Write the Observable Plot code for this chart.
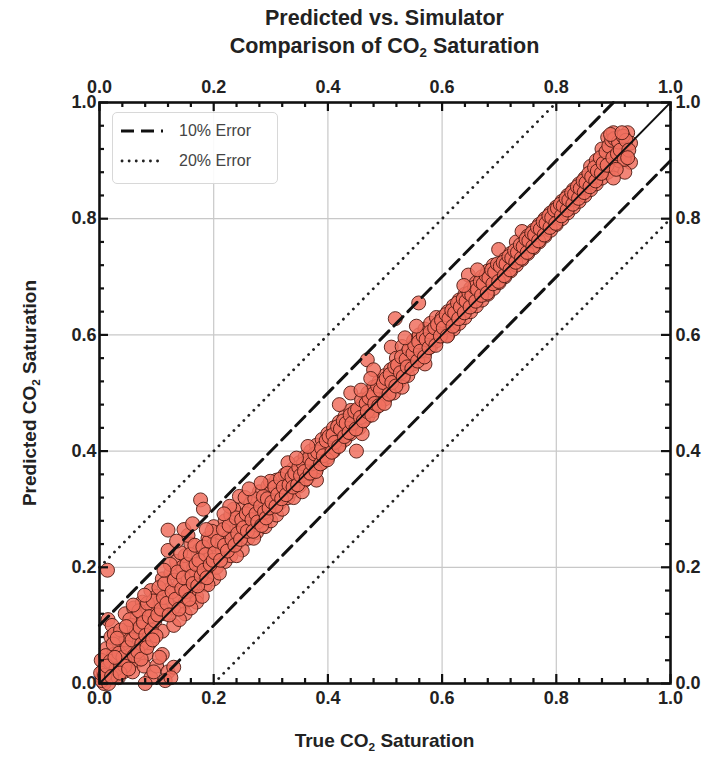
<!DOCTYPE html>
<html><head><meta charset="utf-8">
<script src="https://cdn.jsdelivr.net/npm/d3@7"></script>
<script src="https://cdn.jsdelivr.net/npm/@observablehq/plot@0.6"></script>
<style>
body{margin:0;background:#fff;}
#wrap{position:relative;width:706px;height:757px;font-family:"Liberation Sans",Arial,sans-serif;color:#222;}
.title{position:absolute;left:99px;width:571px;top:4px;text-align:center;font-weight:bold;font-size:21.5px;line-height:28px;}
sub{font-size:0.62em;vertical-align:-0.3em;line-height:0;}
.xlab{position:absolute;left:99px;width:571px;top:730px;text-align:center;font-weight:bold;font-size:19px;}
.ylab{position:absolute;left:30px;top:393px;transform:translate(-50%,-50%) rotate(-90deg);white-space:nowrap;font-weight:bold;font-size:19px;}
.legend{position:absolute;left:112px;top:112px;width:164px;height:70px;border:1px solid #d8d8d8;border-radius:5px;background:rgba(255,255,255,0.9);font-size:16px;color:#444;}
.legend .row{position:absolute;left:6px;height:20px;display:flex;align-items:center;}
.legend svg{margin-right:14px;}
#chart{position:absolute;left:0;top:0;}
</style>
</head><body>
<div id="wrap">
<div id="chart"></div>
<div class="title">Predicted vs. Simulator<br>Comparison of CO<sub>2</sub> Saturation</div>
<div class="xlab">True CO<sub>2</sub> Saturation</div>
<div class="ylab">Predicted CO<sub>2</sub> Saturation</div>
<div class="legend">
  <div class="row" style="top:8px"><svg width="46" height="20"><line x1="2" y1="10" x2="44" y2="10" stroke="#111" stroke-width="3" stroke-dasharray="13,7"/></svg><span>10% Error</span></div>
  <div class="row" style="top:38px"><svg width="46" height="20"><line x1="3" y1="10" x2="44" y2="10" stroke="#222" stroke-width="2.8" stroke-dasharray="0.1,7" stroke-linecap="round"/></svg><span>20% Error</span></div>
</div>
</div>
<script>
// True vs predicted CO2 saturation samples [true, predicted]
const samples = [
[0.005,0.01],[0.01,0.03],[0.012,0.06],[0.018,0.02],[0.02,0.08],[0.025,0.05],[0.03,0.04],[0.008,0.0],[0.015,0.11],[0.022,0.1],
[0.035,0.07],[0.04,0.06],[0.045,0.12],[0.05,0.09],[0.028,0.015],[0.038,0.03],[0.055,0.05],[0.06,0.13],[0.065,0.1],[0.07,0.08],
[0.075,0.14],[0.08,0.11],[0.085,0.09],[0.09,0.16],[0.095,0.12],[0.1,0.15],[0.042,0.02],[0.052,0.04],[0.062,0.07],[0.072,0.06],
[0.082,0.05],[0.092,0.1],[0.004,0.005],[0.016,0.0],[0.033,0.01],[0.048,0.035],[0.058,0.02],[0.068,0.04],[0.078,0.03],[0.088,0.07],
[0.098,0.13],[0.014,0.195],[0.003,0.04],[0.026,0.085],[0.046,0.075],[0.066,0.115],[0.086,0.125],[0.056,0.1],
[0.09,0.01],[0.1,0.03],[0.11,0.05],[0.12,0.02],[0.13,0.028],[0.115,0.005],[0.105,0.045],[0.095,0.02],[0.125,0.01],[0.08,0.0],
[0.105,0.14],[0.11,0.18],[0.115,0.12],[0.12,0.16],[0.12,0.264],[0.12,0.229],[0.125,0.19],[0.13,0.13],[0.135,0.21],[0.14,0.17],
[0.14,0.15],[0.145,0.2],[0.15,0.14],[0.15,0.22],[0.155,0.18],[0.16,0.16],[0.16,0.24],[0.165,0.2],[0.17,0.19],[0.17,0.15],
[0.175,0.23],[0.177,0.316],[0.182,0.3],[0.18,0.21],[0.185,0.17],[0.19,0.25],[0.19,0.2],[0.195,0.22],[0.2,0.18],[0.2,0.24],
[0.11,0.09],[0.13,0.1],[0.15,0.12],[0.17,0.14],[0.19,0.17],[0.14,0.11],[0.16,0.13],[0.18,0.15],[0.2,0.27],[0.155,0.255],
[0.205,0.2],[0.21,0.26],[0.215,0.23],[0.22,0.28],[0.22,0.21],[0.225,0.25],[0.23,0.22],[0.23,0.29],[0.235,0.26],[0.24,0.24],
[0.245,0.322],[0.245,0.27],[0.25,0.23],[0.25,0.3],[0.255,0.26],[0.26,0.28],[0.26,0.25],[0.265,0.31],[0.27,0.27],[0.27,0.3],
[0.275,0.26],[0.28,0.29],[0.28,0.33],[0.285,0.28],[0.29,0.31],[0.29,0.27],[0.295,0.34],[0.3,0.3],[0.3,0.28],[0.21,0.19],
[0.24,0.22],[0.27,0.25],[0.3,0.33],[0.235,0.3],[0.255,0.32],
[0.305,0.32],[0.31,0.29],[0.31,0.35],[0.315,0.31],[0.32,0.34],[0.32,0.3],[0.325,0.36],[0.33,0.32],[0.33,0.35],[0.335,0.33],
[0.34,0.37],[0.34,0.32],[0.345,0.35],[0.35,0.34],[0.35,0.38],[0.355,0.36],[0.36,0.35],[0.36,0.39],[0.365,0.37],[0.37,0.36],
[0.37,0.4],[0.375,0.38],[0.38,0.37],[0.38,0.41],[0.385,0.39],[0.39,0.38],[0.39,0.42],[0.395,0.4],[0.4,0.39],[0.4,0.43],
[0.33,0.38],[0.355,0.33],[0.38,0.35],
[0.405,0.41],[0.41,0.44],[0.41,0.4],[0.415,0.42],[0.42,0.45],[0.42,0.41],[0.425,0.43],[0.43,0.42],[0.43,0.46],[0.435,0.44],
[0.44,0.43],[0.44,0.47],[0.445,0.45],[0.45,0.4],[0.45,0.46],[0.455,0.44],[0.46,0.48],[0.46,0.45],[0.465,0.47],[0.469,0.557],
[0.47,0.46],[0.47,0.5],[0.475,0.48],[0.48,0.47],[0.48,0.51],[0.485,0.49],[0.49,0.48],[0.49,0.52],[0.495,0.5],[0.5,0.49],
[0.5,0.53],[0.42,0.48],[0.44,0.5],[0.46,0.43],[0.48,0.54],
[0.505,0.51],[0.511,0.579],[0.51,0.54],[0.515,0.5],[0.518,0.628],[0.52,0.53],[0.52,0.56],[0.525,0.52],[0.53,0.55],[0.53,0.58],
[0.535,0.54],[0.54,0.53],[0.54,0.57],[0.545,0.56],[0.55,0.55],[0.55,0.59],[0.555,0.57],[0.559,0.655],[0.56,0.56],[0.56,0.6],
[0.565,0.58],[0.57,0.57],[0.57,0.61],[0.575,0.59],[0.58,0.58],[0.58,0.62],[0.585,0.6],[0.59,0.59],[0.59,0.63],[0.595,0.61],
[0.6,0.6],[0.6,0.63],[0.53,0.51],[0.57,0.55],
[0.605,0.62],[0.61,0.6],[0.61,0.64],[0.615,0.62],[0.62,0.61],[0.62,0.65],[0.625,0.63],[0.63,0.62],[0.63,0.66],[0.635,0.64],
[0.64,0.63],[0.64,0.67],[0.645,0.65],[0.646,0.703],[0.65,0.64],[0.65,0.68],[0.655,0.66],[0.66,0.65],[0.66,0.69],[0.665,0.67],
[0.67,0.66],[0.67,0.7],[0.675,0.68],[0.68,0.67],[0.68,0.71],[0.685,0.69],[0.69,0.68],[0.69,0.72],[0.695,0.7],[0.699,0.747],
[0.7,0.69],[0.7,0.72],
[0.705,0.71],[0.71,0.7],[0.71,0.73],[0.715,0.72],[0.72,0.71],[0.72,0.74],[0.725,0.73],[0.73,0.72],[0.73,0.76],[0.735,0.74],
[0.74,0.778],[0.74,0.73],[0.745,0.76],[0.75,0.74],[0.75,0.77],[0.755,0.76],[0.76,0.75],[0.76,0.78],[0.765,0.77],[0.77,0.76],
[0.77,0.79],[0.775,0.78],[0.78,0.77],[0.78,0.8],[0.785,0.79],[0.79,0.78],[0.79,0.81],[0.795,0.8],[0.8,0.79],[0.8,0.82],
[0.805,0.81],[0.81,0.8],[0.81,0.83],[0.815,0.82],[0.82,0.81],[0.82,0.84],[0.825,0.83],[0.83,0.82],[0.83,0.85],[0.835,0.84],
[0.84,0.83],[0.84,0.86],[0.845,0.85],[0.85,0.84],[0.85,0.87],[0.855,0.86],[0.86,0.85],[0.86,0.89],[0.865,0.87],[0.87,0.86],
[0.87,0.9],[0.875,0.88],[0.88,0.87],[0.88,0.92],[0.885,0.9],[0.89,0.88],[0.89,0.94],[0.895,0.91],[0.9,0.948],[0.9,0.89],
[0.905,0.92],[0.91,0.9],[0.91,0.94],[0.915,0.93],[0.92,0.91],[0.925,0.948],[0.93,0.897],[0.92,0.88],[0.93,0.93],[0.9,0.87]
];
// Second batch of samples
const samplesDense = [
[0.006,0.022],[0.011,0.048],[0.019,0.038],[0.024,0.068],[0.029,0.025],[0.034,0.052],[0.037,0.092],[0.041,0.045],[0.044,0.03],[0.049,0.062],
[0.053,0.11],[0.057,0.075],[0.061,0.048],[0.064,0.088],[0.069,0.125],[0.071,0.097],[0.074,0.068],[0.077,0.105],[0.081,0.083],[0.084,0.138],
[0.087,0.115],[0.091,0.092],[0.094,0.142],[0.097,0.108],[0.099,0.082],[0.002,0.018],[0.009,0.014],[0.013,0.03],[0.021,0.012],[0.027,0.045],
[0.031,0.078],[0.036,0.018],[0.047,0.098],[0.051,0.025],[0.059,0.135],[0.067,0.055],[0.073,0.042],[0.079,0.152],[0.083,0.062],[0.093,0.075],
[0.102,0.118],[0.104,0.165],[0.108,0.128],[0.112,0.148],[0.114,0.172],[0.118,0.138],[0.122,0.118],[0.124,0.205],[0.127,0.158],[0.131,0.178],
[0.133,0.145],[0.137,0.192],[0.139,0.128],[0.142,0.225],[0.144,0.163],[0.147,0.182],[0.151,0.158],[0.153,0.205],[0.157,0.145],[0.159,0.222],
[0.162,0.185],[0.164,0.172],[0.167,0.238],[0.169,0.205],[0.172,0.168],[0.174,0.212],[0.178,0.185],[0.181,0.235],[0.183,0.195],[0.186,0.222],
[0.188,0.182],[0.192,0.245],[0.194,0.205],[0.197,0.262],[0.199,0.212],[0.135,0.245],[0.148,0.265],[0.163,0.275],[0.187,0.265],[0.113,0.195],
[0.202,0.225],[0.207,0.245],[0.212,0.212],[0.217,0.265],[0.219,0.238],[0.224,0.228],[0.227,0.272],[0.232,0.248],[0.237,0.238],[0.239,0.285],
[0.242,0.258],[0.247,0.248],[0.249,0.282],[0.252,0.268],[0.257,0.292],[0.259,0.262],[0.262,0.298],[0.267,0.282],[0.269,0.262],[0.272,0.318],
[0.274,0.292],[0.277,0.278],[0.282,0.305],[0.284,0.272],[0.287,0.322],[0.289,0.295],[0.292,0.285],[0.294,0.318],[0.297,0.302],[0.299,0.348],
[0.228,0.305],[0.262,0.335],[0.283,0.345],[0.218,0.292],
[0.302,0.312],[0.307,0.338],[0.309,0.305],[0.312,0.325],[0.317,0.352],[0.319,0.318],[0.322,0.338],[0.327,0.325],[0.329,0.362],[0.332,0.342],
[0.337,0.355],[0.339,0.338],[0.342,0.362],[0.347,0.342],[0.349,0.372],[0.352,0.358],[0.357,0.378],[0.359,0.365],[0.362,0.352],[0.367,0.388],
[0.369,0.362],[0.372,0.378],[0.377,0.395],[0.379,0.365],[0.382,0.398],[0.387,0.378],[0.389,0.405],[0.392,0.392],[0.397,0.418],[0.399,0.385],
[0.345,0.388],[0.365,0.408],
[0.402,0.425],[0.407,0.398],[0.409,0.428],[0.412,0.415],[0.417,0.442],[0.419,0.408],[0.422,0.438],[0.427,0.452],[0.429,0.425],[0.432,0.448],
[0.437,0.432],[0.439,0.462],[0.442,0.448],[0.447,0.468],[0.449,0.438],[0.452,0.472],[0.457,0.458],[0.459,0.488],[0.462,0.452],[0.467,0.482],
[0.469,0.468],[0.472,0.492],[0.477,0.462],[0.479,0.498],[0.482,0.482],[0.487,0.512],[0.489,0.478],[0.492,0.505],[0.497,0.518],[0.499,0.482],
[0.458,0.505],[0.475,0.525],
[0.502,0.525],[0.507,0.498],[0.509,0.532],[0.512,0.518],[0.517,0.545],[0.519,0.512],[0.522,0.548],[0.527,0.535],[0.529,0.562],[0.532,0.528],
[0.537,0.558],[0.539,0.545],[0.542,0.575],[0.547,0.542],[0.549,0.568],[0.552,0.582],[0.557,0.555],[0.559,0.588],[0.562,0.572],[0.567,0.598],
[0.569,0.562],[0.572,0.592],[0.577,0.578],[0.579,0.605],[0.582,0.592],[0.587,0.612],[0.589,0.582],[0.592,0.618],[0.597,0.598],[0.599,0.625],
[0.535,0.595],[0.555,0.615],
[0.602,0.612],[0.607,0.635],[0.609,0.598],[0.612,0.628],[0.617,0.642],[0.619,0.615],[0.622,0.638],[0.627,0.655],[0.629,0.628],[0.632,0.648],
[0.637,0.662],[0.639,0.638],[0.642,0.658],[0.647,0.672],[0.649,0.648],[0.652,0.668],[0.657,0.682],[0.659,0.658],[0.662,0.678],[0.667,0.692],
[0.669,0.668],[0.672,0.688],[0.677,0.702],[0.679,0.672],[0.682,0.698],[0.687,0.712],[0.689,0.688],[0.692,0.708],[0.697,0.722],[0.699,0.692],
[0.638,0.685],[0.662,0.712],
[0.702,0.718],[0.707,0.725],[0.709,0.702],[0.712,0.722],[0.717,0.735],[0.719,0.712],[0.722,0.732],[0.727,0.745],[0.729,0.725],[0.732,0.742],
[0.737,0.755],[0.739,0.732],[0.742,0.752],[0.747,0.765],[0.749,0.742],[0.752,0.762],[0.757,0.775],[0.759,0.752],[0.762,0.772],[0.767,0.785],
[0.769,0.762],[0.772,0.782],[0.777,0.795],[0.779,0.772],[0.782,0.792],[0.787,0.805],[0.789,0.785],[0.792,0.802],[0.797,0.815],[0.799,0.792],
[0.802,0.818],[0.807,0.825],[0.809,0.805],[0.812,0.822],[0.817,0.835],[0.819,0.815],[0.822,0.832],[0.827,0.845],[0.829,0.825],[0.832,0.842],
[0.837,0.855],[0.839,0.835],[0.842,0.852],[0.847,0.865],[0.849,0.845],[0.852,0.862],[0.857,0.878],[0.859,0.855],[0.862,0.872],[0.867,0.888],
[0.869,0.865],[0.872,0.882],[0.877,0.905],[0.879,0.878],[0.882,0.895],[0.887,0.915],[0.889,0.892],[0.892,0.925],[0.897,0.935],[0.899,0.905],
[0.902,0.938],[0.907,0.912],[0.909,0.932],[0.912,0.918],[0.917,0.942],[0.919,0.902],[0.922,0.935],[0.927,0.918],[0.895,0.945],[0.915,0.948],
[0.905,0.885],[0.925,0.905]
];

const errorLevels = [0.1, 0.2];          // 10% and 20% error bands
const majorTicks = [0, 0.2, 0.4, 0.6, 0.8, 1.0];
const minorTicks = [0.04,0.08,0.12,0.16,0.24,0.28,0.32,0.36,0.44,0.48,0.52,0.56,0.64,0.68,0.72,0.76,0.84,0.88,0.92,0.96];
const gridTicks = [0.2, 0.4, 0.6, 0.8];

const allSamples = samples.concat(samplesDense);
const identity = [{x:0,y:0},{x:1,y:1}];
const bandLine = (e, side) => side > 0 ? [{x:0,y:e},{x:1-e,y:1}] : [{x:e,y:0},{x:1,y:1-e}];

const W = 706, H = 757, mT = 102, mB = 74, mL = 99, mR = 36;
const innerH = H - mT - mB, innerW = W - mL - mR;
const tickFont = {fontSize: 18, fontWeight: "bold"};
const dotted = {stroke:"#222", strokeWidth: 2.8, strokeDasharray: "0.1,7", strokeLinecap: "round"};
const dashed = {stroke:"#111", strokeWidth: 3, strokeDasharray: "13,7"};
// inward tick marks on all four sides: length given in pixels, converted to domain units
const inTicks = (vals, len) => {
  const ly = len / innerH, lx = len / innerW, o = {stroke: "#111", strokeWidth: 2.2};
  return [
    Plot.ruleX(vals, {x: d => d, y1: 0, y2: ly, ...o}),
    Plot.ruleX(vals, {x: d => d, y1: 1 - ly, y2: 1, ...o}),
    Plot.ruleY(vals, {y: d => d, x1: 0, x2: lx, ...o}),
    Plot.ruleY(vals, {y: d => d, x1: 1 - lx, x2: 1, ...o}),
  ];
};
const marks = [
  Plot.gridX(gridTicks, {stroke: "#c8c8c8", strokeOpacity: 1, strokeWidth: 1.2}),
  Plot.gridY(gridTicks, {stroke: "#c8c8c8", strokeOpacity: 1, strokeWidth: 1.2}),
  Plot.dot(allSamples, {x: d => d[0], y: d => d[1], r: 7, fill: "#f0705f", fillOpacity: 0.85, stroke: "#4a1912", strokeWidth: 1, strokeOpacity: 0.9}),
  Plot.line(bandLine(errorLevels[1], 1), {x:"x", y:"y", ...dotted}),
  Plot.line(bandLine(errorLevels[1], -1), {x:"x", y:"y", ...dotted}),
  Plot.line(bandLine(errorLevels[0], 1), {x:"x", y:"y", ...dashed}),
  Plot.line(bandLine(errorLevels[0], -1), {x:"x", y:"y", ...dashed}),
  Plot.line(identity, {x:"x", y:"y", stroke:"#111", strokeWidth: 1.8}),
  Plot.frame({stroke: "#111", strokeWidth: 2.6}),
  ...inTicks(majorTicks, 9),
  ...inTicks(minorTicks, 5),
];
for (const anchor of ["top", "bottom"]) {
  marks.push(Plot.axisX(majorTicks, {anchor, tickSize: 0, tickPadding: anchor === "top" ? 10 : 8, tickFormat: d3.format(".1f"), label: null, ...tickFont, fill: "#222"}));
}
for (const anchor of ["left", "right"]) {
  marks.push(Plot.axisY(majorTicks, {anchor, tickSize: 0, tickPadding: anchor === "left" ? 3 : 5, tickFormat: d3.format(".1f"), label: null, ...tickFont, fill: "#222"}));
}

const chart = Plot.plot({
  width: W, height: H,
  marginTop: mT, marginBottom: mB, marginLeft: mL, marginRight: mR,
  style: {fontFamily: '"Liberation Sans",Arial,sans-serif', background: "transparent"},
  x: {domain: [0, 1]},
  y: {domain: [0, 1]},
  marks
});
document.getElementById("chart").appendChild(chart);
</script>
</body></html>
